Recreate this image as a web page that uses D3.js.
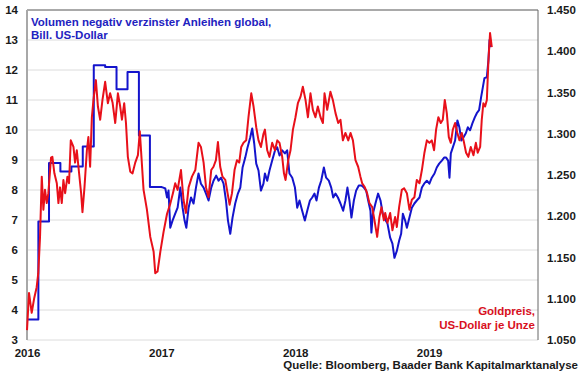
<!DOCTYPE html>
<html>
<head>
<meta charset="utf-8">
<script src="https://cdn.jsdelivr.net/npm/d3@7"></script>
<style>
  body { margin: 0; background: #fff; }
  svg text { font-family: "Liberation Sans", Arial, sans-serif; font-weight: bold; }
</style>
</head>
<body>
<svg id="chart" width="580" height="375"></svg>
<script>

// negative yielding debt, month values 2016 (Bill. US-Dollar)
var bondMonths = ["2016-01","2016-02","2016-03","2016-04","2016-05","2016-06",
                  "2016-07","2016-08","2016-09","2016-10","2016-11","2016-12"];
var bondMonthly = [3.68, 6.95, 8.9, 8.62, 8.78, 9.45, 12.16, 12.1, 11.36, 11.93, 9.82, 8.1];

// daily values from 2017 on: [year as decimal, Bill. US-Dollar]
var bondDaily = [
  [2017.015,8.08],[2017.030,8.05],[2017.043,7.75],[2017.054,7.98],[2017.067,6.74],[2017.084,6.98],
  [2017.104,7.21],[2017.122,7.41],[2017.142,8.08],[2017.159,7.41],[2017.174,6.98],[2017.187,6.74],
  [2017.204,7.41],[2017.222,7.75],[2017.241,7.55],[2017.259,8.08],[2017.278,8.55],[2017.296,8.21],
  [2017.316,8.08],[2017.334,7.88],[2017.353,7.65],[2017.373,8.08],[2017.390,8.31],[2017.410,8.48],
  [2017.428,8.31],[2017.446,8.41],[2017.465,8.21],[2017.483,7.65],[2017.498,6.98],[2017.515,6.54],
  [2017.532,7.08],[2017.552,7.55],[2017.572,7.88],[2017.590,8.08],[2017.607,8.75],[2017.627,9.08],
  [2017.644,9.42],[2017.664,9.75],[2017.679,10.05],[2017.694,9.55],[2017.709,8.88],[2017.726,8.65],
  [2017.744,7.98],[2017.763,8.21],[2017.774,8.55],[2017.791,8.31],[2017.808,8.65],[2017.828,8.98],
  [2017.849,9.32],[2017.866,9.42],[2017.883,9.15],[2017.903,9.32],[2017.923,9.22],[2017.940,9.32],
  [2017.957,8.55],[2017.978,8.41],[2017.998,8.08],[2018.015,7.41],[2018.032,7.65],[2018.052,7.31],
  [2018.072,6.98],[2018.090,7.31],[2018.110,7.65],[2018.127,7.75],[2018.144,7.88],[2018.159,7.65],
  [2018.177,8.08],[2018.194,8.31],[2018.214,8.75],[2018.231,8.41],[2018.251,8.31],[2018.269,8.08],
  [2018.284,7.75],[2018.301,7.88],[2018.319,7.75],[2018.338,7.55],[2018.358,7.31],[2018.375,7.65],
  [2018.390,8.08],[2018.405,7.65],[2018.420,7.08],[2018.438,7.65],[2018.455,7.98],[2018.475,8.15],
  [2018.495,8.15],[2018.513,8.08],[2018.530,7.98],[2018.545,7.65],[2018.562,7.31],[2018.569,6.58],
  [2018.580,7.21],[2018.599,7.55],[2018.619,7.88],[2018.637,7.65],[2018.654,7.2],[2018.674,7.0],
  [2018.689,6.88],[2018.709,6.41],[2018.726,6.21],[2018.741,5.74],[2018.759,5.97],[2018.776,6.31],
  [2018.791,6.54],[2018.804,7.21],[2018.821,6.98],[2018.834,6.74],[2018.853,7.08],[2018.871,7.41],
  [2018.890,7.55],[2018.908,7.65],[2018.928,7.75],[2018.946,8.08],[2018.963,8.21],[2018.983,8.31],
  [2019.002,8.21],[2019.020,8.41],[2019.040,8.55],[2019.057,8.75],[2019.075,8.88],[2019.095,8.98],
  [2019.112,9.08],[2019.127,9.08],[2019.142,8.98],[2019.152,8.41],[2019.162,9.22],[2019.177,9.42],
  [2019.194,9.65],[2019.211,10.32],[2019.226,10.09],[2019.241,9.65],[2019.256,9.75],[2019.274,9.89],
  [2019.289,10.09],[2019.306,9.99],[2019.323,10.22],[2019.341,10.42],[2019.356,10.56],[2019.373,10.66],
  [2019.388,11.09],[2019.401,11.42],[2019.413,11.73],[2019.431,11.76],[2019.443,12.33],[2019.451,13.0],
  [2019.460,12.76]
];

// gold price, US-Dollar per ounce: [year as decimal, price]
var goldDaily = [
  [2016.000,1062],[2016.015,1107],[2016.035,1083],[2016.054,1101],[2016.072,1114],[2016.084,1131],
  [2016.097,1175],[2016.110,1248],[2016.122,1208],[2016.134,1232],[2016.147,1216],[2016.159,1228],
  [2016.179,1271],[2016.189,1272],[2016.204,1252],[2016.222,1240],[2016.234,1216],[2016.246,1235],
  [2016.259,1216],[2016.271,1244],[2016.284,1228],[2016.301,1248],[2016.313,1240],[2016.326,1292],
  [2016.346,1284],[2016.358,1265],[2016.371,1280],[2016.383,1260],[2016.403,1228],[2016.413,1205],
  [2016.428,1235],[2016.446,1280],[2016.457,1296],[2016.470,1260],[2016.483,1320],[2016.495,1341],
  [2016.513,1365],[2016.528,1333],[2016.545,1317],[2016.562,1341],[2016.582,1363],[2016.602,1337],
  [2016.619,1349],[2016.637,1338],[2016.657,1313],[2016.677,1349],[2016.694,1333],[2016.707,1317],
  [2016.724,1337],[2016.737,1313],[2016.751,1272],[2016.769,1254],[2016.786,1252],[2016.806,1265],
  [2016.826,1274],[2016.840,1303],[2016.868,1232],[2016.893,1208],[2016.918,1175],[2016.943,1157],
  [2016.955,1131],[2016.972,1133],[2016.993,1157],[2017.017,1181],[2017.043,1203],[2017.067,1215],
  [2017.087,1228],[2017.104,1240],[2017.122,1232],[2017.147,1256],[2017.166,1220],[2017.184,1204],
  [2017.204,1235],[2017.229,1248],[2017.254,1256],[2017.278,1289],[2017.296,1284],[2017.316,1265],
  [2017.334,1235],[2017.353,1223],[2017.373,1256],[2017.390,1260],[2017.408,1268],[2017.423,1290],
  [2017.440,1260],[2017.457,1248],[2017.478,1244],[2017.495,1228],[2017.510,1214],[2017.528,1228],
  [2017.547,1256],[2017.565,1268],[2017.582,1265],[2017.597,1284],[2017.614,1289],[2017.634,1292],
  [2017.651,1320],[2017.672,1349],[2017.689,1333],[2017.709,1308],[2017.726,1292],[2017.744,1284],
  [2017.763,1300],[2017.774,1305],[2017.791,1280],[2017.808,1272],[2017.828,1289],[2017.849,1280],
  [2017.866,1292],[2017.883,1289],[2017.903,1272],[2017.916,1252],[2017.928,1244],[2017.948,1268],
  [2017.965,1280],[2017.983,1305],[2018.002,1320],[2018.020,1337],[2018.040,1345],[2018.057,1357],
  [2018.077,1341],[2018.095,1320],[2018.114,1349],[2018.132,1329],[2018.151,1320],[2018.169,1333],
  [2018.189,1320],[2018.207,1313],[2018.219,1349],[2018.239,1329],[2018.263,1351],[2018.281,1341],
  [2018.301,1325],[2018.321,1313],[2018.338,1317],[2018.356,1292],[2018.375,1301],[2018.396,1292],
  [2018.413,1301],[2018.431,1292],[2018.450,1268],[2018.470,1260],[2018.487,1248],[2018.500,1240],
  [2018.520,1235],[2018.537,1228],[2018.554,1216],[2018.575,1211],[2018.592,1195],[2018.612,1175],
  [2018.629,1199],[2018.644,1211],[2018.662,1195],[2018.672,1204],[2018.689,1192],[2018.709,1204],
  [2018.726,1183],[2018.746,1199],[2018.759,1187],[2018.776,1211],[2018.796,1232],[2018.813,1234],
  [2018.834,1228],[2018.853,1208],[2018.871,1220],[2018.890,1223],[2018.908,1244],[2018.928,1240],
  [2018.946,1256],[2018.965,1277],[2018.983,1292],[2019.002,1289],[2019.020,1292],[2019.037,1280],
  [2019.052,1305],[2019.069,1320],[2019.087,1313],[2019.102,1317],[2019.117,1341],[2019.132,1325],
  [2019.147,1296],[2019.162,1289],[2019.177,1305],[2019.194,1313],[2019.211,1301],[2019.226,1292],
  [2019.244,1301],[2019.261,1289],[2019.276,1277],[2019.293,1272],[2019.311,1284],[2019.331,1274],
  [2019.349,1289],[2019.363,1277],[2019.381,1284],[2019.393,1317],[2019.405,1337],[2019.418,1333],
  [2019.431,1341],[2019.443,1389],[2019.455,1422],[2019.468,1405]
];

var leftTicks = d3.range(3, 15);
var rightTicks = d3.range(1050, 1451, 50);
var yearLabels = ["2016", "2017", "2018", "2019"];

var svg = d3.select("#chart"),
    plotL = 27, plotR = 538, plotT = 10, plotB = 340;

var decToDate = function(t) {
  var y = Math.floor(t), a = new Date(y, 0, 1), b = new Date(y + 1, 0, 1);
  return new Date(+a + (t - y) * (b - a));
};

var x = d3.scaleTime()
    .domain([new Date(2016, 0, 1), decToDate(2019.813)])
    .range([plotL, plotR]);
var yL = d3.scaleLinear().domain([3, 14]).range([plotB, plotT]);
var yR = d3.scaleLinear().domain([1050, 1450]).range([plotB, plotT]);

var de = d3.formatLocale({decimal: ",", thousands: ".", grouping: [3], currency: ["", " €"]});

// gridlines
svg.append("g")
  .selectAll("line")
  .data(leftTicks)
  .enter().append("line")
    .attr("x1", plotL).attr("x2", plotR)
    .attr("y1", function(d) { return yL(d); })
    .attr("y2", function(d) { return yL(d); })
    .attr("stroke", "#dcdcdc")
    .attr("stroke-width", 1);

// frame
svg.append("path")
  .attr("d", "M" + plotL + "," + plotT + "H" + plotR + "V" + plotB)
  .attr("fill", "none")
  .attr("stroke", "#666")
  .attr("stroke-width", 1);
svg.append("line")
  .attr("x1", plotL).attr("x2", plotL).attr("y1", plotT).attr("y2", plotB)
  .attr("stroke", "#a8a8a8").attr("stroke-width", 2);

// axes
var axL = svg.append("g")
  .attr("transform", "translate(" + plotL + ",0)")
  .call(d3.axisLeft(yL).tickValues(leftTicks).tickSize(0).tickPadding(9).tickFormat(d3.format("d")));
var axR = svg.append("g")
  .attr("transform", "translate(" + plotR + ",0)")
  .call(d3.axisRight(yR).tickValues(rightTicks).tickSize(0).tickPadding(9).tickFormat(de.format(",")));
var axB = svg.append("g")
  .attr("transform", "translate(0," + plotB + ")")
  .call(d3.axisBottom(x)
    .tickValues(yearLabels.map(function(d) { return new Date(+d, 0, 1); }))
    .tickSize(0).tickPadding(9).tickFormat(d3.timeFormat("%Y")));

[axL, axR, axB].forEach(function(a) {
  a.select(".domain").remove();
  a.selectAll("text")
    .attr("fill", "#1a1a1a")
    .style("font-size", "11.5px");
});

// blue: monthly steps then daily values
var bondPoints = [];
bondMonths.forEach(function(m, i) {
  var start = d3.timeParse("%Y-%m")(m);
  bondPoints.push([start, bondMonthly[i]]);
  bondPoints.push([d3.timeMonth.offset(start, 1), bondMonthly[i]]);
});
bondDaily.forEach(function(d) { bondPoints.push([decToDate(d[0]), d[1]]); });

var bondLine = d3.line()
    .x(function(d) { return x(d[0]); })
    .y(function(d) { return yL(d[1]); });

svg.append("path")
  .datum(bondPoints)
  .attr("d", bondLine)
  .attr("fill", "none")
  .attr("stroke", "#1414cc")
  .attr("stroke-width", 2)
  .attr("stroke-linejoin", "round");

var goldLine = d3.line()
    .x(function(d) { return x(decToDate(d[0])); })
    .y(function(d) { return yR(d[1]); });

svg.append("path")
  .datum(goldDaily)
  .attr("d", goldLine)
  .attr("fill", "none")
  .attr("stroke", "#e8101a")
  .attr("stroke-width", 2)
  .attr("stroke-linejoin", "round");

// labels
var title = svg.append("text")
  .attr("x", 31).attr("y", 26)
  .attr("fill", "#2222c0")
  .style("font-size", "11.5px");
title.append("tspan").attr("x", 31).text("Volumen negativ verzinster Anleihen global,");
title.append("tspan").attr("x", 31).attr("dy", 12.5).text("Bill. US-Dollar");

var goldLabel = svg.append("text")
  .attr("x", 535).attr("y", 315)
  .attr("text-anchor", "end")
  .attr("fill", "#d8101e")
  .style("font-size", "11.5px");
goldLabel.append("tspan").attr("x", 535).text("Goldpreis,");
goldLabel.append("tspan").attr("x", 535).attr("dy", 14).text("US-Dollar je Unze");

svg.append("text")
  .attr("x", 578).attr("y", 369)
  .attr("text-anchor", "end")
  .attr("fill", "#1a1a1a")
  .style("font-size", "11.5px")
  .text("Quelle: Bloomberg, Baader Bank Kapitalmarktanalyse");

</script>
</body>
</html>
